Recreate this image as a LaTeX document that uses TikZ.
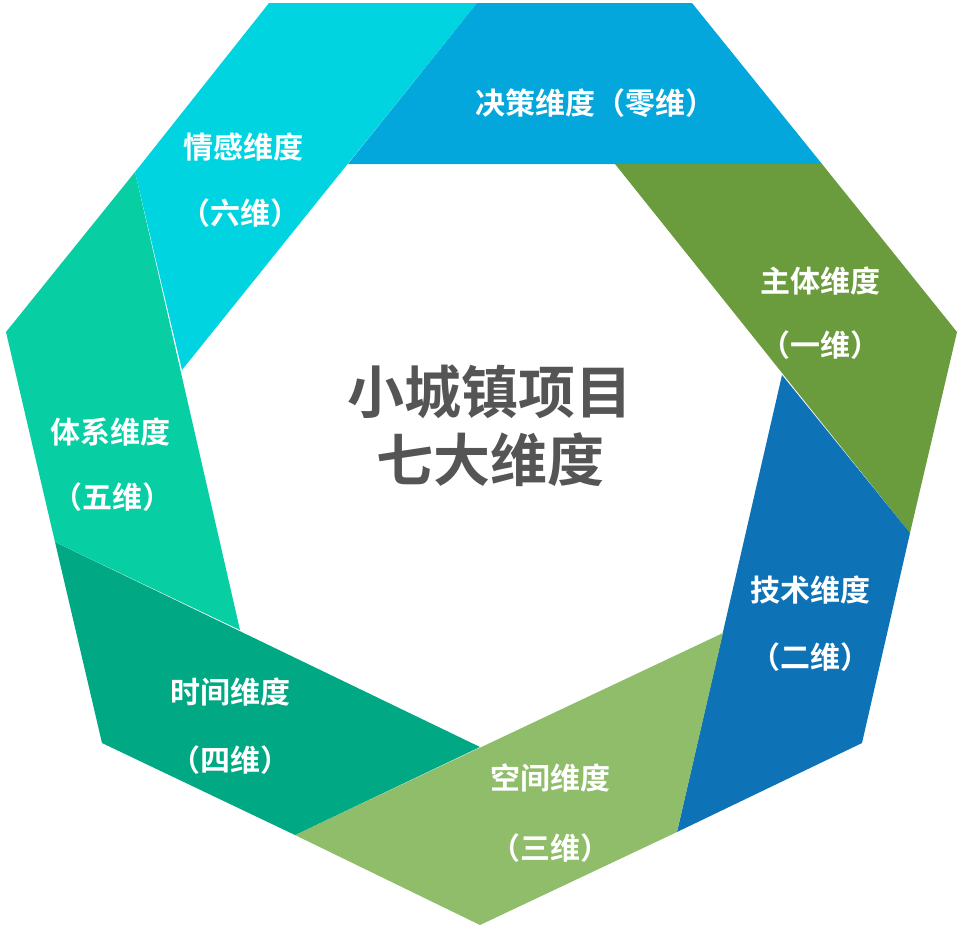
\documentclass[tikz,border=0pt]{standalone}
\usepackage{fontspec}
\newfontfamily\cjk{Noto Sans CJK SC Bold}
\definecolor{cA}{HTML}{03A7DC}
\definecolor{cB}{HTML}{6A9B3C}
\definecolor{cC}{HTML}{0E72B6}
\definecolor{cD}{HTML}{8FBD69}
\definecolor{cE}{HTML}{00A884}
\definecolor{cF}{HTML}{07CEA3}
\definecolor{cG}{HTML}{00D4E0}
\definecolor{ctr}{HTML}{555555}
\begin{document}
\begin{tikzpicture}[x=1pt,y=-1pt,
  lbl/.style={text=white,font=\cjk\fontsize{30}{34}\selectfont,inner sep=0pt},
  ctrl/.style={text=ctr,font=\cjk\fontsize{57}{66}\selectfont,inner sep=0pt}]
\useasboundingbox (0,0) rectangle (960,930);
\fill[cG] (269,3) -- (477,3) -- (182,370) -- (135,172) -- cycle;
\fill[cA] (477,3) -- (692,3) -- (822,164) -- (348,164) -- cycle;
\fill[cB] (615,164) -- (822,164) -- (957,332) -- (910,533) -- cycle;
\fill[cC] (782,375) -- (910,533) -- (862,743) -- (677,832) -- cycle;
\fill[cD] (723,633) -- (677,832) -- (480,925) -- (295,835) -- cycle;
\fill[cE] (55,542) -- (102,743) -- (295,835) -- (480,747) -- cycle;
\fill[cF] (135,172) -- (6,332) -- (55,542) -- (240,630) -- cycle;
\node[lbl] (l0) at (595,103) {决策维度（零维）};
\node[lbl] (l6a) at (243,147) {情感维度};
\node[lbl] (l6b) at (240,213) {（六维）};
\node[lbl] (l1a) at (820,281) {主体维度};
\node[lbl] (l1b) at (820,345) {（一维）};
\node[lbl] (l5a) at (110,432) {体系维度};
\node[lbl] (l5b) at (112,497) {（五维）};
\node[lbl] (l2a) at (810,590) {技术维度};
\node[lbl] (l2b) at (810,657) {（二维）};
\node[lbl] (l4a) at (230,692) {时间维度};
\node[lbl] (l4b) at (230,760) {（四维）};
\node[lbl] (l3a) at (550,778) {空间维度};
\node[lbl] (l3b) at (550,848) {（三维）};
\node[ctrl] (c1) at (490,392) {小城镇项目};
\node[ctrl] (c2) at (490,460) {七大维度};
\end{tikzpicture}
\end{document}
